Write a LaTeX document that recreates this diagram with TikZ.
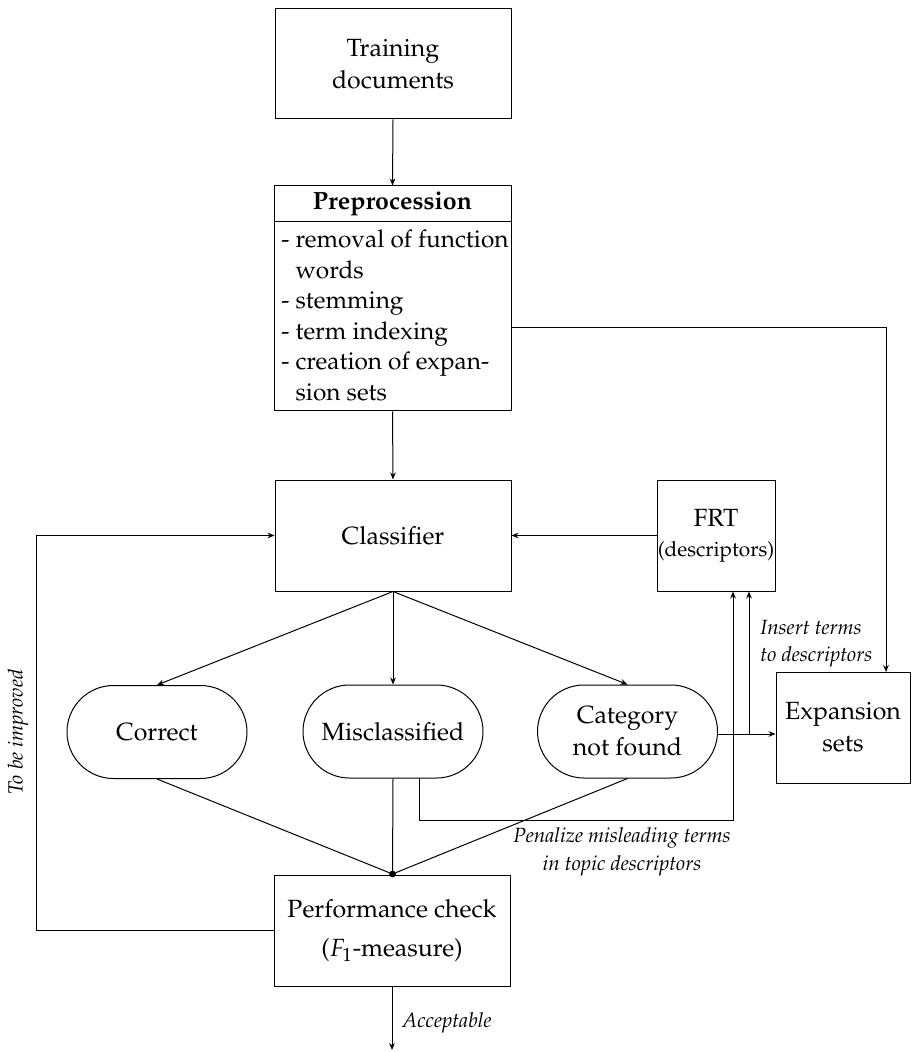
\documentclass[tikz,border=0pt]{standalone}
\usepackage[T1]{fontenc}
\usepackage{mathpazo}
\usetikzlibrary{arrows.meta,shapes.misc,calc}
\begin{document}
\begin{tikzpicture}[x=0.5pt,y=-0.5pt,
  font=\fontsize{12.45}{16}\selectfont,
  box/.style={draw,line width=0.5pt,inner sep=0pt,align=center},
  pill/.style={draw,rounded rectangle,line width=0.5pt,inner sep=0pt,align=center,minimum width=90pt,minimum height=46.5pt},
  arr/.style={line width=0.5pt,-{Stealth[length=3.5pt,width=2.8pt]}},
  ln/.style={line width=0.5pt},
  lbl/.style={font=\fontsize{10.3}{13.7}\selectfont\itshape,inner sep=0pt}]
\useasboundingbox (0,0) rectangle (911,1052);

% nodes
\node[box,minimum width=118pt,minimum height=55pt] (train) at (393,64) {Training\\documents};
\node[box,minimum width=118.5pt,minimum height=112.5pt] (prep) at (392.5,298.5) {};
\draw[ln] ($(prep.north west)+(0,36)$) coordinate (hl) -- (hl -| prep.east) coordinate (hr);
\node[inner sep=0pt,font=\fontsize{12.45}{16}\selectfont\bfseries] (prephead) at (392.5,204) {Preprocession};
\node[inner sep=0pt,anchor=north west,align=left,font=\fontsize{12.2}{15.25}\selectfont] (preplist) at (281,229.5)
  {-~removal of function\\\hphantom{-~}words\\-~stemming\\-~term indexing\\-~creation of expan-\\\hphantom{-~}sion sets};

\node[box,minimum width=118pt,minimum height=55.5pt] (cls) at (393,535.5) {Classifier};
\node[box,minimum width=59pt,minimum height=55.5pt] (frt) at (716,535.5) {FRT\\[-1pt]{\fontsize{10.4}{12}\selectfont(descriptors)}};

\node[pill] (correct) at (157,732) {Correct};
\node[pill] (mis) at (393,731.5) {Misclassified};
\node[pill] (cat) at (627.5,731.5) {Category\\not found};

\node[box,minimum width=67pt,minimum height=55.5pt] (exp) at (843,727.5) {Expansion\\sets};
\node[box,minimum width=118pt,minimum height=55.5pt] (perf) at (392,930.5) {Performance check\\[3.5pt]($F_1$-measure)};

% helper coordinates
\coordinate (dot) at (392.5,874);
\coordinate (preout) at (511,328);
\coordinate (expin) at (886,672);
\coordinate (misout) at (419,778);
\coordinate (penal) at (733,820);
\coordinate (br) at (749,734);
\coordinate (catout) at (718,734);
\coordinate (loopx) at (36,535.5);
\coordinate (final) at (392,1050);

% connectors
\draw[arr] (train.south) -- (prep.north);
\draw[arr] (prep.south) -- (cls.north);
\draw[arr] (frt.west) -- (cls.east);
\draw[arr] (preout) -| (expin);
\draw[arr] (cls.south) -- (correct.north);
\draw[arr] (cls.south) -- (mis.north);
\draw[arr] (cls.south) -- (cat.north);
\draw[ln] (correct.south) -- (dot);
\draw[ln] (mis.south) -- (dot);
\draw[ln] (cat.south) -- (dot);
\fill (dot) circle (1.7pt);
\draw[arr] (misout) |- (penal) -- (penal |- frt.south);
\draw[arr] (catout) -- (catout -| exp.west);
\draw[arr] (br) -- (br |- frt.south);
\draw[arr] (perf.west) -| (loopx) -- (cls.west);
\draw[arr] (perf.south) -- (final);

% labels
\node[lbl,rotate=90] (improve) at (18,732) {To be improved};
\node[lbl,anchor=west,align=left] (insert) at (760,643.5) {Insert terms\\to descriptors};
\node[lbl,align=center] (penalize) at (622,852) {Penalize misleading terms\\in topic descriptors};
\node[lbl,anchor=west] (accept) at (402,1023) {Acceptable};
\end{tikzpicture}
\end{document}
